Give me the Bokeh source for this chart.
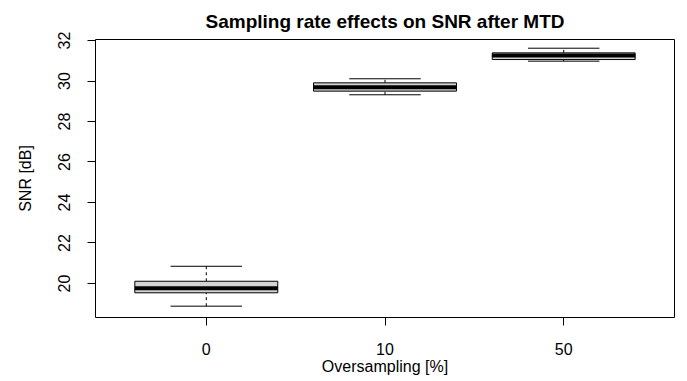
from bokeh.plotting import figure
from bokeh.models import Range1d, FixedTicker, ColumnDataSource
from bokeh.embed import file_html
from bokeh.resources import INLINE

# ---- data ----
categories = ["0", "10", "50"]
lower_whisker = [18.88, 29.32, 30.98]
q1 = [19.54, 29.50, 31.06]
medians = [19.76, 29.69, 31.26]
q3 = [20.11, 29.91, 31.39]
upper_whisker = [20.85, 30.11, 31.62]
y_ticks = [20, 22, 24, 26, 28, 30, 32]

title_text = "Sampling rate effects on SNR after MTD"
x_label = "Oversampling [%]"
y_label = "SNR [dB]"

FONT = "Liberation Sans"
box_w = 0.8
cap_w = 0.4

pos = list(range(1, len(categories) + 1))
src = ColumnDataSource(dict(
    x=pos,
    bl=[p_ - box_w / 2 for p_ in pos],
    br=[p_ + box_w / 2 for p_ in pos],
    cl=[p_ - cap_w / 2 for p_ in pos],
    cr=[p_ + cap_w / 2 for p_ in pos],
    lo=lower_whisker, q1=q1, med=medians, q3=q3, hi=upper_whisker,
))

p = figure(width=687, height=381, output_backend="svg", toolbar_location=None,
           x_range=Range1d(0.38, 3.62), y_range=Range1d(18.32, 32.05),
           min_border_left=95, min_border_right=13, min_border_top=39,
           min_border_bottom=64, title=title_text)

p.background_fill_color = "white"
p.border_fill_color = "white"
p.grid.visible = False
p.outline_line_color = "black"
p.outline_line_width = 1
p.outline_line_alpha = 1

p.title.text_font = FONT
p.title.text_font_size = "19px"
p.title.text_font_style = "bold"
p.title.text_color = "black"
p.title.align = "center"
p.title.standoff = 16

# whiskers (dashed)
p.segment(x0="x", x1="x", y0="q3", y1="hi", source=src, line_color="black",
          line_width=1, line_dash="3 3")
p.segment(x0="x", x1="x", y0="lo", y1="q1", source=src, line_color="black",
          line_width=1, line_dash="3 3")
# staples
p.segment(x0="cl", x1="cr", y0="hi", y1="hi", source=src, line_color="black", line_width=1)
p.segment(x0="cl", x1="cr", y0="lo", y1="lo", source=src, line_color="black", line_width=1)
# boxes
p.quad(left="bl", right="br", bottom="q1", top="q3", source=src,
       fill_color="#d3d3d3", line_color="black", line_width=1)
# medians
p.segment(x0="bl", x1="br", y0="med", y1="med", source=src, line_color="black", line_width=4)

for ax in (p.xaxis[0], p.yaxis[0]):
    ax.axis_line_color = "black"
    ax.major_tick_line_color = "black"
    ax.minor_tick_line_color = None
    ax.major_tick_in = 0
    ax.major_tick_out = 8
    ax.major_label_text_font = FONT
    ax.major_label_text_font_size = "16px"
    ax.major_label_text_color = "black"
    ax.axis_label_text_font = FONT
    ax.axis_label_text_font_size = "16px"
    ax.axis_label_text_font_style = "normal"
    ax.axis_label_text_color = "black"

xa = p.xaxis[0]
xa.ticker = FixedTicker(ticks=pos)
xa.major_label_overrides = {p_: c for p_, c in zip(pos, categories)}
xa.bounds = (pos[0], pos[-1])
xa.axis_label = x_label
xa.major_label_standoff = 17
xa.axis_label_standoff = 0

ya = p.yaxis[0]
ya.ticker = FixedTicker(ticks=y_ticks)
ya.bounds = (y_ticks[0], y_ticks[-1])
ya.axis_label = y_label
ya.major_label_orientation = "vertical"
ya.major_label_standoff = 17
ya.axis_label_standoff = 22

open("out.html", "w").write(file_html(p, INLINE))
